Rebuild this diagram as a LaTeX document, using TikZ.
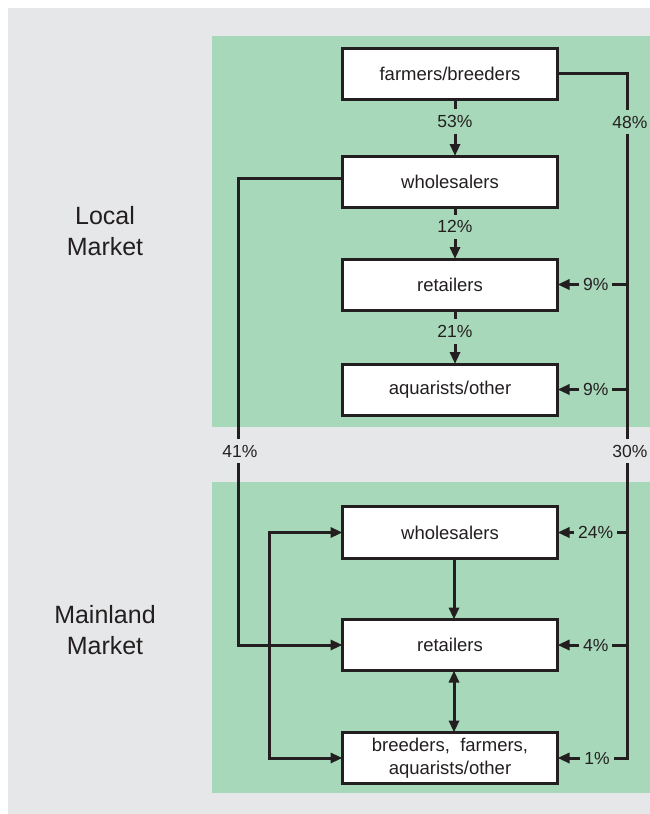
\documentclass[tikz,border=0pt]{standalone}
\usepackage{fontspec}
\setmainfont{Liberation Sans}
\usetikzlibrary{arrows.meta,calc}
\definecolor{bggray}{HTML}{E6E7E8}
\definecolor{bggreen}{HTML}{A7D8B9}
\definecolor{ink}{HTML}{231F20}
\begin{document}
\begin{tikzpicture}[x=1pt,y=-1pt,
  box/.style={draw=ink, fill=white, line width=3pt, minimum width=215pt, minimum height=51pt,
    inner sep=0pt, outer sep=0pt, font=\fontsize{18.5}{23}\selectfont, text=ink, align=center},
  conn/.style={draw=ink, line width=3pt},
  tip/.tip={Triangle[length=12pt,width=10pt]},
  arr/.style={conn, -tip},
  pct/.style={font=\fontsize{17.5}{20}\selectfont, text=ink, fill=bggreen, inner xsep=4pt, inner ysep=6pt},
  side/.style={font=\fontsize{25}{31}\selectfont, text=ink, align=center, inner sep=0pt}]
\useasboundingbox (0,0) rectangle (650,814);
\fill[white] (0,0) rectangle (650,814);
\fill[bggray] (8,8) rectangle (650,814);
\fill[bggreen] (212,36) rectangle (650,427);
\fill[bggreen] (212,482) rectangle (650,793);

\node[side] (local) at (105,231.5) {Local\\Market};
\node[side] (mainland) at (105,630) {Mainland\\Market};

\node[box] (fb) at (450,74) {farmers/breeders};
\node[box] (lw) at (450,181.5) {wholesalers};
\node[box] (lr) at (450,284.5) {retailers};
\node[box] (la) at (450,389.5) {aquarists/other};
\node[box, minimum height=52pt] (mw) at (450,532.5) {wholesalers};
\node[box] (mr) at (450,645) {retailers};
\node[box] (mb) at (450,758) {breeders,\ \ farmers,\\aquarists/other};

% local vertical flows
\draw[arr] ([xshift=5pt]fb.south) -- node[pct,pos=0.39]{53\%} ([xshift=5pt]lw.north);
\draw[arr] ([xshift=5pt]lw.south) -- node[pct,pos=0.38]{12\%} ([xshift=5pt]lr.north);
\draw[arr] ([xshift=5pt]lr.south) -- node[pct,pos=0.40]{21\%} ([xshift=5pt]la.north);

% mainland vertical flows
\draw[arr] ([xshift=4pt]mw.south) -- ([xshift=4pt]mr.north);
\draw[conn, tip-tip] ([xshift=4pt]mr.south) -- ([xshift=4pt]mb.north);

% right spine
\coordinate (S) at (627,0);
\draw[arr] ([yshift=1pt]fb.east) -| (S |- mb.east) -- node[pct,pos=0.43]{1\%} (mb.east);
\node[pct] (p48) at (630,122) {48\%};
\node[pct, fill=bggray] (p30) at (630,451) {30\%};
\draw[arr] (S |- lr.east) -- node[pct,pos=0.45]{9\%} (lr.east);
\draw[arr] (S |- la.east) -- node[pct,pos=0.45]{9\%} (la.east);
\draw[arr] (S |- mw.east) -- node[pct,pos=0.45]{24\%} (mw.east);
\draw[arr] (S |- mr.east) -- node[pct,pos=0.45]{4\%} (mr.east);

% left line wholesalers -> mainland retailers
\coordinate (L1) at (238,0);
\draw[arr] ([yshift=3.5pt]lw.west) -| (L1 |- mr.west) -- (mr.west);
\node[pct, fill=bggray] (p41) at (240,451) {41\%};

% left loop mainland wholesalers <-> breeders
\coordinate (L2) at (269,0);
\draw[conn, tip-tip] (mw.west) -- (L2 |- mw.west) -- (L2 |- mb.west) -- (mb.west);
\end{tikzpicture}
\end{document}
